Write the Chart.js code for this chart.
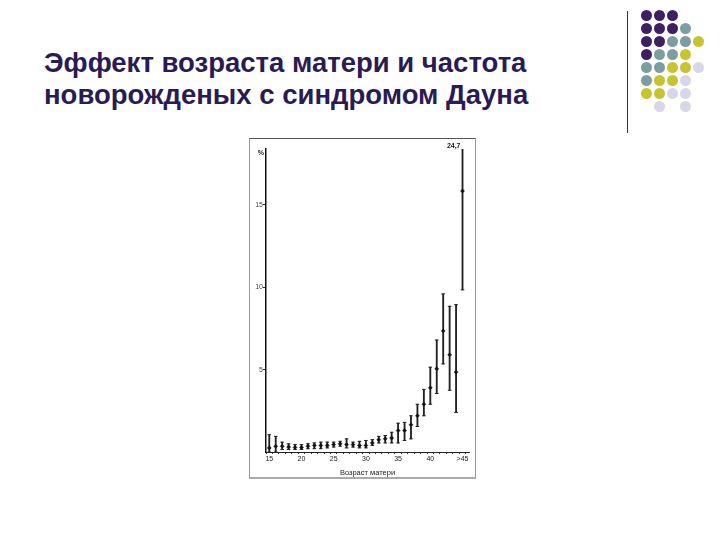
<!DOCTYPE html>
<html lang="ru">
<head>
  <meta charset="UTF-8">
  <title>Эффект возраста матери</title>
  <script src="https://cdn.jsdelivr.net/npm/chart.js"></script>
  <style>
    body { margin: 0; background: #fff; width: 720px; height: 540px; position: relative; overflow: hidden; font-family: "Liberation Sans", Arial, sans-serif; }
    h1 { position: absolute; left: 44px; top: 47px; margin: 0; font-size: 27.5px; line-height: 32px; color: #2b1b55; font-weight: bold; white-space: nowrap; }
    #vline { position: absolute; left: 627px; top: 11px; width: 1px; height: 122px; background: #333; }
    #dots { position: absolute; left: 641px; top: 10px; display: grid; grid-template-columns: repeat(5, 11px); grid-auto-rows: 11px; gap: 2px 2px; }
    #dots span { width: 11px; height: 11px; border-radius: 50%; }
    #frame { position: absolute; left: 249px; top: 138px; width: 225px; height: 338px; border: 1px solid #999; border-top-color: #555; border-bottom: 2px solid #aaa; }
  </style>
</head>
<body>
  <h1>Эффект возраста матери и частота<br>новорожденых с синдромом Дауна</h1>
  <div id="vline"></div>
  <div id="dots"></div>
  <div id="frame"><canvas id="chart" width="225" height="338"></canvas></div>

  <script>
    // возраст матери, лет (45 = ">45")
    const ages = [15,16,17,18,19,20,21,22,23,24,25,26,27,28,29,30,31,32,33,34,35,36,37,38,39,40,41,42,43,44,45];
    // частота, %
    const rate = [0.25,0.35,0.35,0.3,0.28,0.28,0.35,0.4,0.4,0.4,0.45,0.5,0.45,0.45,0.4,0.4,0.55,0.75,0.8,0.85,1.3,1.3,1.65,2.2,2.9,3.9,5.05,7.35,5.9,4.85,15.85];
    const lower = [0,0,0.15,0.15,0.15,0.15,0.2,0.2,0.2,0.25,0.3,0.35,0.25,0.3,0.25,0.25,0.4,0.55,0.55,0.55,0.55,0.7,0.8,1.55,2.2,2.9,3.55,5.35,3.75,2.4,9.85];
    const upper = [1.05,0.95,0.6,0.5,0.45,0.45,0.5,0.55,0.6,0.6,0.6,0.65,0.8,0.6,0.65,0.7,0.75,0.95,1.0,1.2,1.75,1.8,2.2,2.9,3.8,5.15,6.8,9.6,8.85,8.95,24.7];
    const yTicks = [5,10,15];

    // декоративные кружки справа сверху
    const dotRows = ['PPP..','PPPT.','PPTTY','PTTY.','TTYYL','TYYL.','YYLL.','.L.L.'];
    const dotColors = { P: '#3f1f63', T: '#7b9fa1', Y: '#c8c431', L: '#d7d7e7' };
    const dotsEl = document.getElementById('dots');
    dotRows.forEach(r => {
      r.split('').forEach(c => {
        const s = document.createElement('span');
        if (c !== '.') s.style.background = dotColors[c];
        dotsEl.appendChild(s);
      });
    });

    const labelsPlugin = {
      id: 'labels',
      afterDraw(chart) {
        const ctx = chart.ctx, x = chart.scales.x, y = chart.scales.y;
        ctx.save();
        ctx.fillStyle = '#222';
        ctx.font = 'bold 7px "Liberation Sans"';
        ctx.textAlign = 'right';
        ctx.textBaseline = 'top';
        ctx.fillText('%', y.right - 2, chart.chartArea.top + 1);
        ctx.fillText('24,7', x.getPixelForValue(45) - 2, chart.chartArea.top - 6);
        ctx.restore();
      }
    };

    new Chart(document.getElementById('chart'), {
      data: {
        datasets: [
          {
            type: 'bar',
            data: ages.map((a, i) => ({ x: a, y: [lower[i], upper[i]] })),
            backgroundColor: '#222',
            barThickness: 1.2,
            order: 3
          },
          {
            type: 'scatter',
            data: ages.map((a, i) => ({ x: a, y: upper[i] })).concat(ages.map((a, i) => ({ x: a, y: lower[i] }))),
            pointStyle: 'line',
            pointRadius: 1.8,
            borderColor: '#222',
            borderWidth: 1,
            order: 2
          },
          {
            type: 'scatter',
            data: ages.map((a, i) => ({ x: a, y: rate[i] })),
            pointStyle: 'rectRot',
            pointRadius: 2,
            backgroundColor: '#111',
            borderColor: '#111',
            borderWidth: 0.5,
            order: 1
          }
        ]
      },
      options: {
        responsive: false,
        animation: false,
        layout: { padding: { top: 10, right: 6, left: 0, bottom: 0 } },
        plugins: { legend: { display: false }, tooltip: { enabled: false } },
        scales: {
          x: {
            type: 'linear',
            min: 15,
            max: 45.5,
            grid: { display: true, drawOnChartArea: false, tickLength: 2, color: '#333' },
            border: { color: '#222', width: 1 },
            ticks: {
              stepSize: 1,
              autoSkip: false,
              includeBounds: false,
              maxRotation: 0,
              padding: 1,
              color: '#222',
              font: { size: 7, family: 'Liberation Sans' },
              callback: v => v === 45 ? '>45' : (v % 5 === 0 ? v : '')
            },
            title: { display: true, text: 'Возраст матери', color: '#222', font: { size: 7.5, family: 'Liberation Sans' }, padding: 0 },
            afterFit: s => { s.height = 25; }
          },
          y: {
            min: 0,
            max: 18.4,
            afterBuildTicks: s => { s.ticks = yTicks.map(v => ({ value: v })); },
            grid: { display: true, drawOnChartArea: false, tickLength: 3, color: '#333' },
            border: { color: '#111', width: 1.5 },
            ticks: { color: '#444', padding: 0, font: { size: 7, family: 'Liberation Sans' } },
            afterFit: s => { s.width = 16; }
          }
        }
      },
      plugins: [labelsPlugin]
    });
  </script>
</body>
</html>
